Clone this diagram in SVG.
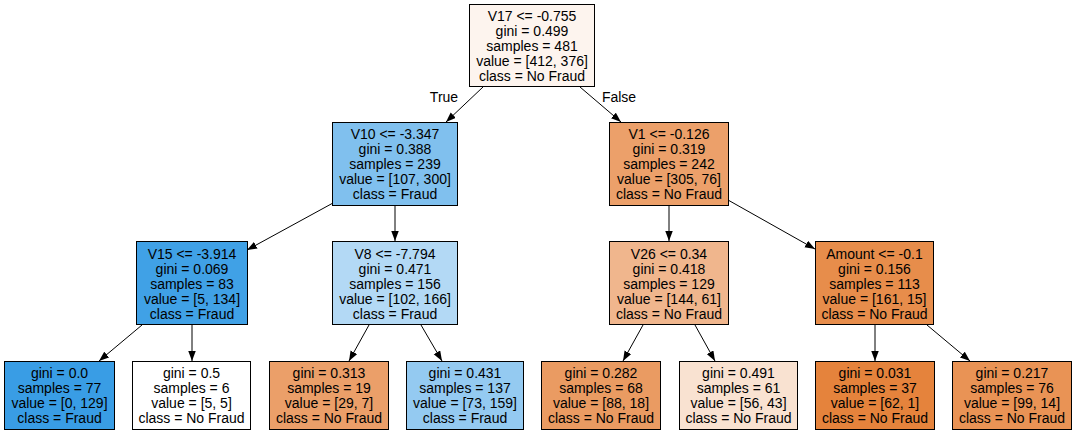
<svg xmlns="http://www.w3.org/2000/svg" width="1076" height="433" viewBox="0 0 1076 433">
<defs>
<marker id="ah" markerUnits="userSpaceOnUse" markerWidth="10" markerHeight="8" refX="10" refY="3.75" orient="auto">
<path d="M0,0 L10,3.75 L0,7.5 z" fill="#000"/>
</marker>
<style>
.n rect{stroke:#000;stroke-width:1}
text{font-family:"Liberation Sans",Arial,sans-serif;font-size:14px;fill:#000;text-anchor:middle}
.e line{stroke:#000;stroke-width:1;marker-end:url(#ah)}
</style>
</defs>
<rect width="1076" height="433" fill="#fff"/>
<g id="edges" class="e">
<line x1="483" y1="87" x2="446" y2="122"/>
<line x1="580" y1="87" x2="621" y2="122"/>
<line x1="333" y1="203" x2="247" y2="250"/>
<line x1="395" y1="206" x2="395" y2="241"/>
<line x1="669" y1="206" x2="669" y2="241"/>
<line x1="728" y1="200" x2="815" y2="249"/>
<line x1="142" y1="325" x2="99" y2="361"/>
<line x1="192" y1="325" x2="192" y2="361"/>
<line x1="369" y1="325" x2="349" y2="361"/>
<line x1="421" y1="325" x2="442" y2="361"/>
<line x1="643" y1="325" x2="623" y2="361"/>
<line x1="695" y1="325" x2="715" y2="361"/>
<line x1="875" y1="325" x2="875" y2="361"/>
<line x1="927" y1="325" x2="970" y2="361"/>
<text x="444" y="102">True</text>
<text x="619" y="102">False</text>
</g>
<g id="root" class="n"><rect x="469.5" y="4.5" width="125" height="82" fill="#fdf4ee"/>
<text x="532" y="20.5">V17 &lt;= -0.755</text><text x="532" y="35.5">gini = 0.499</text><text x="532" y="50.5">samples = 481</text><text x="532" y="65.5">value = [412, 376]</text><text x="532" y="80.5">class = No Fraud</text></g>
<g id="v10" class="n"><rect x="332.5" y="122.5" width="125" height="83" fill="#80c0ee"/>
<text x="395" y="139">V10 &lt;= -3.347</text><text x="395" y="154">gini = 0.388</text><text x="395" y="169">samples = 239</text><text x="395" y="184">value = [107, 300]</text><text x="395" y="199">class = Fraud</text></g>
<g id="v1" class="n"><rect x="609.5" y="122.5" width="119" height="83" fill="#eca06a"/>
<text x="669" y="139">V1 &lt;= -0.126</text><text x="669" y="154">gini = 0.319</text><text x="669" y="169">samples = 242</text><text x="669" y="184">value = [305, 76]</text><text x="669" y="199">class = No Fraud</text></g>
<g id="v15" class="n"><rect x="136.5" y="241.5" width="111" height="83" fill="#40a1e6"/>
<text x="192" y="258.5">V15 &lt;= -3.914</text><text x="192" y="273.5">gini = 0.069</text><text x="192" y="288.5">samples = 83</text><text x="192" y="303.5">value = [5, 134]</text><text x="192" y="318.5">class = Fraud</text></g>
<g id="v8" class="n"><rect x="332.5" y="241.5" width="125" height="83" fill="#b3d9f5"/>
<text x="395" y="258.5">V8 &lt;= -7.794</text><text x="395" y="273.5">gini = 0.471</text><text x="395" y="288.5">samples = 156</text><text x="395" y="303.5">value = [102, 166]</text><text x="395" y="318.5">class = Fraud</text></g>
<g id="v26" class="n"><rect x="609.5" y="241.5" width="119" height="83" fill="#f0b68d"/>
<text x="669" y="258.5">V26 &lt;= 0.34</text><text x="669" y="273.5">gini = 0.418</text><text x="669" y="288.5">samples = 129</text><text x="669" y="303.5">value = [144, 61]</text><text x="669" y="318.5">class = No Fraud</text></g>
<g id="amount" class="n"><rect x="815.5" y="241.5" width="118" height="83" fill="#e78d4b"/>
<text x="874.5" y="258.5">Amount &lt;= -0.1</text><text x="874.5" y="273.5">gini = 0.156</text><text x="874.5" y="288.5">samples = 113</text><text x="874.5" y="303.5">value = [161, 15]</text><text x="874.5" y="318.5">class = No Fraud</text></g>
<g id="leaf1" class="n"><rect x="4.5" y="361.5" width="110" height="68" fill="#399de5"/>
<text x="59.5" y="377.5">gini = 0.0</text><text x="59.5" y="392.5">samples = 77</text><text x="59.5" y="407.5">value = [0, 129]</text><text x="59.5" y="422.5">class = Fraud</text></g>
<g id="leaf2" class="n"><rect x="132.5" y="361.5" width="118" height="68" fill="#ffffff"/>
<text x="191.5" y="377.5">gini = 0.5</text><text x="191.5" y="392.5">samples = 6</text><text x="191.5" y="407.5">value = [5, 5]</text><text x="191.5" y="422.5">class = No Fraud</text></g>
<g id="leaf3" class="n"><rect x="269.5" y="361.5" width="119" height="68" fill="#eb9f69"/>
<text x="329" y="377.5">gini = 0.313</text><text x="329" y="392.5">samples = 19</text><text x="329" y="407.5">value = [29, 7]</text><text x="329" y="422.5">class = No Fraud</text></g>
<g id="leaf4" class="n"><rect x="406.5" y="361.5" width="117" height="68" fill="#94caf1"/>
<text x="465" y="377.5">gini = 0.431</text><text x="465" y="392.5">samples = 137</text><text x="465" y="407.5">value = [73, 159]</text><text x="465" y="422.5">class = Fraud</text></g>
<g id="leaf5" class="n"><rect x="541.5" y="361.5" width="119" height="68" fill="#ea9b62"/>
<text x="601" y="377.5">gini = 0.282</text><text x="601" y="392.5">samples = 68</text><text x="601" y="407.5">value = [88, 18]</text><text x="601" y="422.5">class = No Fraud</text></g>
<g id="leaf6" class="n"><rect x="679.5" y="361.5" width="118" height="68" fill="#f9e2d1"/>
<text x="738.5" y="377.5">gini = 0.491</text><text x="738.5" y="392.5">samples = 61</text><text x="738.5" y="407.5">value = [56, 43]</text><text x="738.5" y="422.5">class = No Fraud</text></g>
<g id="leaf7" class="n"><rect x="815.5" y="361.5" width="119" height="68" fill="#e5833c"/>
<text x="875" y="377.5">gini = 0.031</text><text x="875" y="392.5">samples = 37</text><text x="875" y="407.5">value = [62, 1]</text><text x="875" y="422.5">class = No Fraud</text></g>
<g id="leaf8" class="n"><rect x="952.5" y="361.5" width="119" height="68" fill="#e99355"/>
<text x="1012" y="377.5">gini = 0.217</text><text x="1012" y="392.5">samples = 76</text><text x="1012" y="407.5">value = [99, 14]</text><text x="1012" y="422.5">class = No Fraud</text></g>
</svg>
